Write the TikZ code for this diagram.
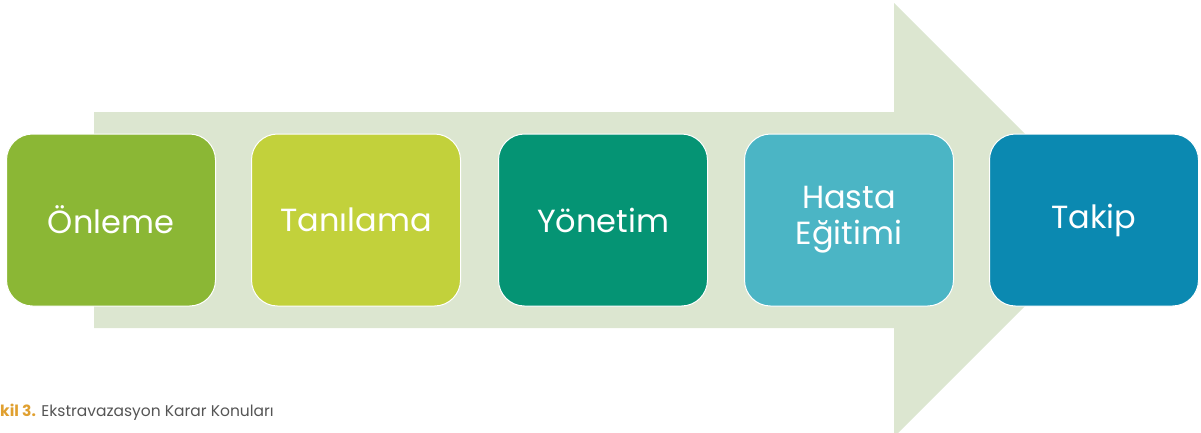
\documentclass[tikz,border=0pt]{standalone}
\usepackage{fontspec}
\setmainfont{Poppins}
\definecolor{arrowc}{HTML}{DCE6D0}
\definecolor{c1}{HTML}{8BB735}
\definecolor{c2}{HTML}{C2D13B}
\definecolor{c3}{HTML}{059474}
\definecolor{c4}{HTML}{4BB5C5}
\definecolor{c5}{HTML}{0B89B1}
\definecolor{capor}{HTML}{E0A030}
\definecolor{capgr}{HTML}{555555}
\begin{document}
\begin{tikzpicture}[x=1pt,y=-1pt,
  stepbox/.style={draw=white,line width=1pt,rounded corners=26pt,minimum width=209pt,minimum height=172pt,inner sep=0pt,text=white,font=\fontsize{32}{36}\selectfont,align=center}]
\useasboundingbox (0,0) rectangle (1201,432);
\fill[arrowc] (94,112) -- (894,112) -- (894,3) -- (1111,220) -- (894,437) -- (894,328) -- (94,328) -- cycle;
\node[stepbox,fill=c1] (s1) at (111,220) {Önleme};
\node[stepbox,fill=c2] (s2) at (356,220) {Tanılama};
\node[stepbox,fill=c3] (s3) at (603,220) {Yönetim};
\node[stepbox,fill=c4] (s4) at (849,220) {Hasta\\Eğitimi};
\node[stepbox,fill=c5] (s5) at (1094,220) {Takip};
\node[anchor=base west,inner sep=0pt,font=\fontsize{15.5}{18}\selectfont] (cap) at (0,416) {\textcolor{capor}{\textbf{kil 3.}} \textcolor{capgr}{Ekstravazasyon Karar Konuları}};
\end{tikzpicture}
\end{document}
